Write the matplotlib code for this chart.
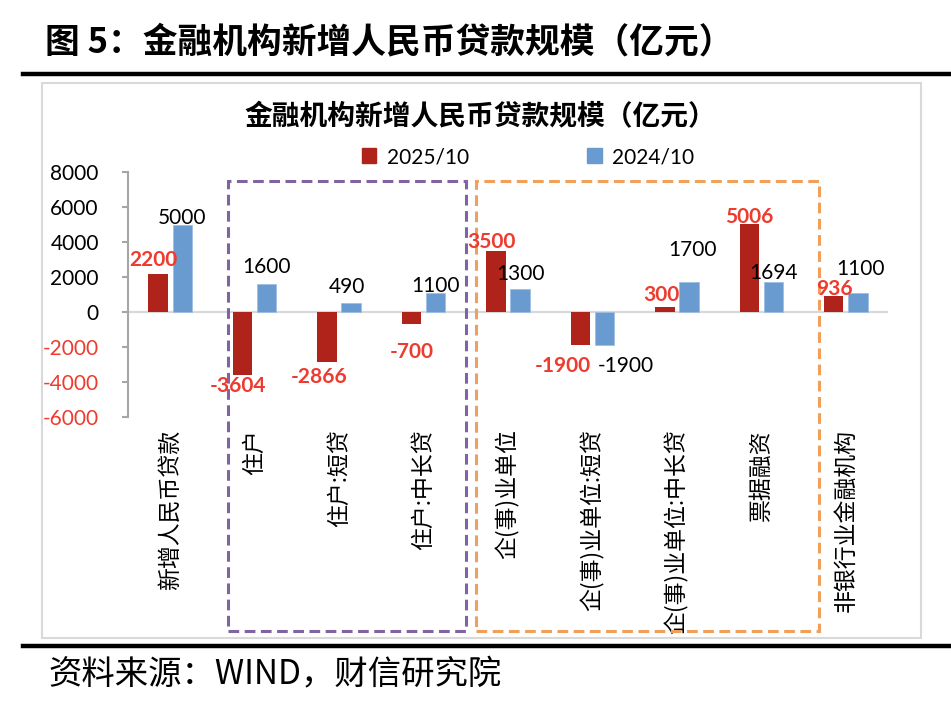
import matplotlib
matplotlib.use('Agg')
import matplotlib.pyplot as plt
import matplotlib.transforms as mtransforms
from matplotlib.patches import Rectangle, Patch
from matplotlib.lines import Line2D
import numpy as np

plt.rcParams['font.family'] = ['Noto Sans CJK SC', 'DejaVu Sans']

# data
categories = ['新增人民币贷款', '住户', '住户:短贷', '住户:中长贷', '企(事)业单位',
              '企(事)业单位:短贷', '企(事)业单位:中长贷', '票据融资', '非银行业金融机构']
series_names = ['2025/10', '2024/10']
vals_2025 = [2200, -3604, -2866, -700, 3500, -1900, 300, 5006, 936]
vals_2024 = [5000, 1600, 490, 1100, 1300, -1900, 1700, 1694, 1100]
yticks = [-6000, -4000, -2000, 0, 2000, 4000, 6000, 8000]

# label nudges in pixels (dx, dy)
off_2025 = [(-5, 14), (-5, -11), (-8, -15), (0, -28), (-4, 9), (-18, -21), (-3, 12), (0, 7), (1, 7)]
off_2024 = [(0, 6), (0, 17), (-4, 16), (0, 7), (0, 15), (21, -21), (4, 32), (0, 9), (3, 24)]

red = '#B0231A'
blue = '#6A9BD0'
lab_red = '#EE3B2F'
num_font = ['Lato', 'Noto Sans CJK SC']

W, H = 951, 726
fig = plt.figure(figsize=(W / 100, H / 100), dpi=100)

# page title, rules, chart frame, source
fig.text(45 / W, 1 - 42 / H, '图 5：金融机构新增人民币贷款规模（亿元）', fontsize=25,
         fontweight='bold', va='center', ha='left')
fig.add_artist(Line2D([23 / W, 1], [1 - 74 / H] * 2, color='black', lw=3.2))
fig.add_artist(Line2D([23 / W, 1], [1 - 646 / H] * 2, color='black', lw=3.2))
fig.add_artist(Rectangle((42 / W, 1 - 638 / H), (921 - 42) / W, (638 - 83) / H,
                         transform=fig.transFigure, fill=False, ec='#D9D9D9', lw=1.5))
fig.text(48 / W, 1 - 675 / H, '资料来源：WIND，财信研究院', fontsize=24,
         va='center', ha='left', style='italic')
fig.text(480 / W, 1 - 117 / H, '金融机构新增人民币贷款规模（亿元）', fontsize=20,
         fontweight='bold', va='center', ha='center')

ax = fig.add_axes([128 / W, 1 - 417 / H, 760 / W, 245 / H])
x = np.arange(len(categories))
bw = 0.23
off = 0.143
ax.bar(x - off, vals_2025, bw, color=red, zorder=3)
ax.bar(x + off, vals_2024, bw, color=blue, ec='#9DBFE4', lw=0.6, zorder=3)
ax.axhline(0, color='#D9D9D9', lw=1.6, zorder=2)

for i in range(len(categories)):
    ax.annotate(str(vals_2025[i]), (x[i] - off, vals_2025[i]), xytext=off_2025[i],
                textcoords='offset pixels', ha='center', va='center', fontsize=15,
                color=lab_red, fontweight='bold', family=num_font, zorder=5)
    ax.annotate(str(vals_2024[i]), (x[i] + off, vals_2024[i]), xytext=off_2024[i],
                textcoords='offset pixels', ha='center', va='center', fontsize=15,
                color='black', family=num_font, zorder=5)

ax.set_xlim(-0.5, len(categories) - 0.5)
ax.set_ylim(-6000, 8000)
ax.set_yticks(yticks)
ax.set_yticklabels([str(v) for v in yticks], family=num_font, fontsize=15)
for t, v in zip(ax.get_yticklabels(), yticks):
    t.set_color(lab_red if v < 0 else 'black')
ax.tick_params(axis='y', length=4, width=1.5, color='#A6A6A6', pad=17)
ax.set_xticks(x)
ax.set_xticklabels(categories, rotation=90, fontsize=16.5, va='top')
ax.tick_params(axis='x', length=0, pad=9)
for s in ['top', 'right', 'bottom']:
    ax.spines[s].set_visible(False)
ax.spines['left'].set_color('#A6A6A6')
ax.spines['left'].set_linewidth(1.5)

# group boxes (x in data units, y in figure units)
trans = mtransforms.blended_transform_factory(ax.transData, fig.transFigure)
ax.add_patch(Rectangle((0.684, 1 - 631 / H), 3.503 - 0.684, (631 - 181) / H,
                       transform=trans, fill=False, ec='#8064A2', lw=2.2,
                       ls=(0, (3.5, 1.8)), clip_on=False, zorder=4))
ax.add_patch(Rectangle((3.62, 1 - 631 / H), 7.68 - 3.62, (631 - 181) / H,
                       transform=trans, fill=False, ec='#F0A05A', lw=2.2,
                       ls=(0, (3.5, 1.8)), clip_on=False, zorder=4))

handles = [Patch(color=red), Patch(color=blue)]
fig.legend(handles, series_names, loc='center', bbox_to_anchor=(528 / W, 1 - 157 / H),
           ncol=2, frameon=False, handlelength=0.7, handleheight=0.7, handletextpad=0.5,
           columnspacing=5.7, prop={'family': num_font, 'size': 15})

fig.savefig('out.png', dpi=100)
